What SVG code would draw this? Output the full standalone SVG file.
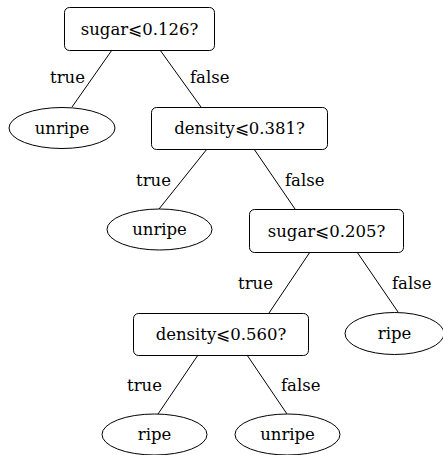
<svg xmlns="http://www.w3.org/2000/svg" width="443" height="455" viewBox="0 0 443 455">
<style>
.box{fill:#fff;stroke:#000;stroke-width:1}
.leaf{fill:#fff;stroke:#000;stroke-width:1}
.edge{stroke:#000;stroke-width:1;fill:none}
text{font-family:"DejaVu Serif","Liberation Serif",serif;font-size:16.5px;fill:#000}
.c{text-anchor:middle}
</style>
<rect width="443" height="455" fill="#fff"/>
<g id="connectors">
<line class="edge" x1="112" y1="50" x2="72" y2="107"/>
<line class="edge" x1="160" y1="50" x2="201" y2="107"/>
<line class="edge" x1="207" y1="149" x2="159" y2="209"/>
<line class="edge" x1="254" y1="149" x2="295" y2="209"/>
<line class="edge" x1="310" y1="252" x2="269" y2="313"/>
<line class="edge" x1="357" y1="252" x2="398" y2="312"/>
<line class="edge" x1="198" y1="355" x2="158" y2="414"/>
<line class="edge" x1="247" y1="355" x2="287" y2="414"/>
<text x="50" y="83">true</text>
<text x="190" y="83">false</text>
<text x="136" y="186">true</text>
<text x="285" y="186">false</text>
<text x="238" y="289">true</text>
<text x="392" y="289">false</text>
<text x="127" y="391">true</text>
<text x="281" y="391">false</text>
</g>
<g id="n1"><rect class="box" x="64.5" y="7.5" width="150" height="43" rx="5"/><text class="c" x="139.5" y="35">sugar⩽0.126?</text></g>
<g id="n2"><ellipse class="leaf" cx="62" cy="128" rx="53" ry="20.5"/><text class="c" x="62" y="134">unripe</text></g>
<g id="n3"><rect class="box" x="151.5" y="107.5" width="176" height="42" rx="5"/><text class="c" x="239.5" y="134">density⩽0.381?</text></g>
<g id="n4"><ellipse class="leaf" cx="159.5" cy="229.5" rx="52.5" ry="20.5"/><text class="c" x="159.5" y="235">unripe</text></g>
<g id="n5"><rect class="box" x="249.5" y="209.5" width="154" height="43" rx="5"/><text class="c" x="326.5" y="237">sugar⩽0.205?</text></g>
<g id="n6"><rect class="box" x="133.5" y="313.5" width="175" height="42" rx="5"/><text class="c" x="221" y="340">density⩽0.560?</text></g>
<g id="n7"><ellipse class="leaf" cx="394.5" cy="333.5" rx="49.5" ry="21"/><text class="c" x="394.5" y="339">ripe</text></g>
<g id="n8"><ellipse class="leaf" cx="154.5" cy="434.5" rx="52.5" ry="20.5"/><text class="c" x="154.5" y="440">ripe</text></g>
<g id="n9"><ellipse class="leaf" cx="287.5" cy="434.5" rx="52.5" ry="20.5"/><text class="c" x="287.5" y="440">unripe</text></g>
</svg>
